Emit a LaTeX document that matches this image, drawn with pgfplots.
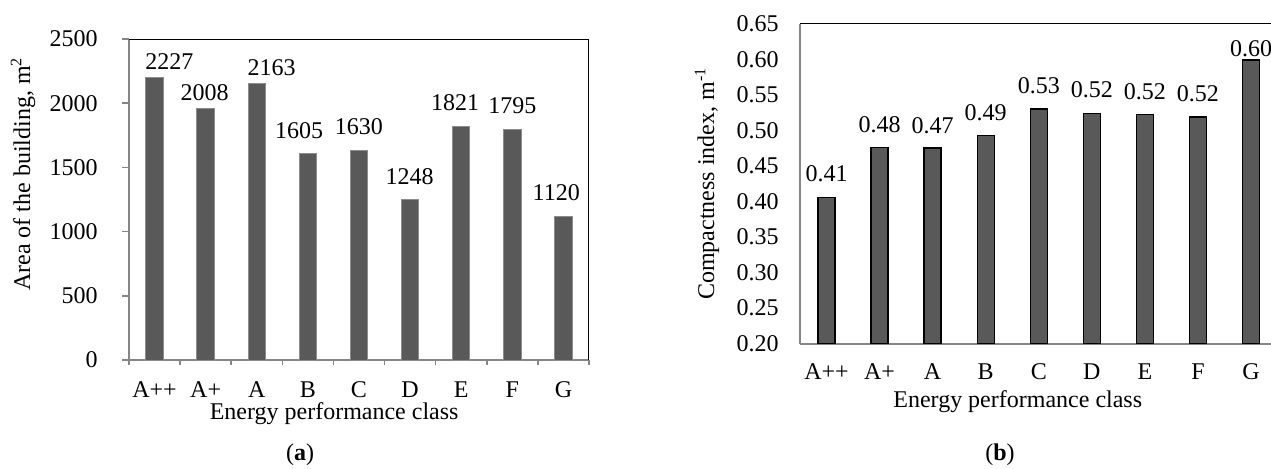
\documentclass[border=0pt]{standalone}
\usepackage{fontspec}
\setmainfont{Liberation Serif}
\usepackage{pgfplots}
\usepackage{pgfplotstable}
\pgfplotsset{compat=1.18}
\definecolor{barfill}{HTML}{595959}
\definecolor{axgray}{HTML}{868686}
\definecolor{bargray}{HTML}{8C8C8C}

\pgfplotstableread{
x y
0 2203
1 1961
2 2157
3 1607
4 1630
5 1248
6 1822
7 1797
8 1116
}\areabars
\pgfplotstableread{
x y label
0.29 2321 2227
0.98 2079 2008
2.29 2274 2163
2.83 1783 1605
4.00 1815 1630
4.99 1429 1248
5.88 2001 1821
7.00 1978 1795
7.86 1301 1120
}\arealabels
\pgfplotstableread{
x y
0 0.406
1 0.476
2 0.475
3 0.493
4 0.530
5 0.524
6 0.522
7 0.519
8 0.599
}\compbars
\pgfplotstableread{
x y label
0 0.4396 0.41
1 0.5075 0.48
2 0.5061 0.47
3 0.5248 0.49
4 0.5624 0.53
5 0.5568 0.52
6 0.5544 0.52
7 0.5511 0.52
8 0.6154 0.60
}\complabels

\begin{document}
\begin{tikzpicture}[font=\fontsize{12pt}{14pt}\selectfont]
\path[use as bounding box] (0,0) rectangle (635.5pt,234pt);
% ---------- panel (a)
\begin{axis}[
  at={(64.5pt,54pt)}, anchor=south west,
  scale only axis, width=230pt, height=160.5pt,
  xmin=-0.5, xmax=8.5, ymin=0, ymax=2500,
  axis x line*=bottom, axis y line*=left,
  x axis line style={axgray, line width=1pt},
  y axis line style={axgray, line width=1pt},
  xtick={0,...,8}, xticklabels={A++,A+,A,B,C,D,E,F,G},
  minor xtick={-0.5,0.5,...,8.5},
  ytick={0,500,...,2500},
  tick align=outside,
  major tick length=3.5pt, minor tick length=2.5pt,
  major tick style={axgray, line width=0.75pt},
  minor tick style={axgray, line width=0.75pt},
  major x tick style={draw=none},
  /pgf/number format/assume math mode=true,
  /pgf/number format/1000 sep={},
  xticklabel style={anchor=center, inner sep=0pt, yshift=-11.5pt},
  yticklabel style={anchor=east, inner sep=0pt, xshift=-12pt},
  xlabel={Energy performance class},
  xlabel style={at={(axis description cs:0.446,-0.168)}, anchor=center},
  ylabel={Area of the building, m\textsuperscript{2}},
  ylabel style={at={(axis description cs:-0.2304,0.58)}, anchor=center},
  clip=false,
]
\addplot[ybar, bar width=8.75pt, fill=barfill, draw=bargray, line width=0.5pt] table[x=x,y=y] {\areabars};
\addplot[draw=none, nodes near coords, point meta=explicit symbolic,
  nodes near coords align={center},
  every node near coord/.append style={inner sep=0pt, black}] table[x=x,y=y,meta=label] {\arealabels};
\draw[black, line width=0.5pt] (rel axis cs:0,1) -- (rel axis cs:1,1) -- (rel axis cs:1,0);
\end{axis}
% ---------- panel (b)
\begin{axis}[
  at={(400pt,62.15pt)}, anchor=south west,
  scale only axis, width=238.8pt, height=160pt,
  xmin=-0.5, xmax=8.5, ymin=0.2, ymax=0.65,
  axis x line*=bottom, axis y line*=left,
  x axis line style={axgray, line width=1pt},
  y axis line style={axgray, line width=1pt},
  xtick={0,...,8}, xticklabels={A++,A+,A,B,C,D,E,F,G},
  ytick={0.20,0.25,...,0.66},
  tick style={draw=none},
  /pgf/number format/assume math mode=true,
  yticklabel={\pgfmathprintnumber[fixed,fixed zerofill,precision=2]{\tick}},
  xticklabel style={anchor=center, inner sep=0pt, yshift=-14pt},
  yticklabel style={anchor=east, inner sep=0pt, xshift=-10.5pt},
  xlabel={Energy performance class},
  xlabel style={at={(axis description cs:0.456,-0.1825)}, anchor=center},
  ylabel={Compactness index, m\textsuperscript{-1}},
  ylabel style={at={(axis description cs:-0.1947,0.5)}, anchor=center},
  clip=false,
]
\addplot[ybar, bar width=8.5pt, fill=barfill, draw=black, line width=0.7pt] table[x=x,y=y] {\compbars};
\addplot[draw=none, nodes near coords, point meta=explicit symbolic,
  nodes near coords align={center},
  every node near coord/.append style={inner sep=0pt, black}] table[x=x,y=y,meta=label] {\complabels};
\draw[black, line width=0.65pt] (rel axis cs:0,1) -- (rel axis cs:1,1);
\end{axis}
\node at (150pt,6.5pt) {(\textbf{a})};
\node at (500pt,6.5pt) {(\textbf{b})};
\end{tikzpicture}
\end{document}
